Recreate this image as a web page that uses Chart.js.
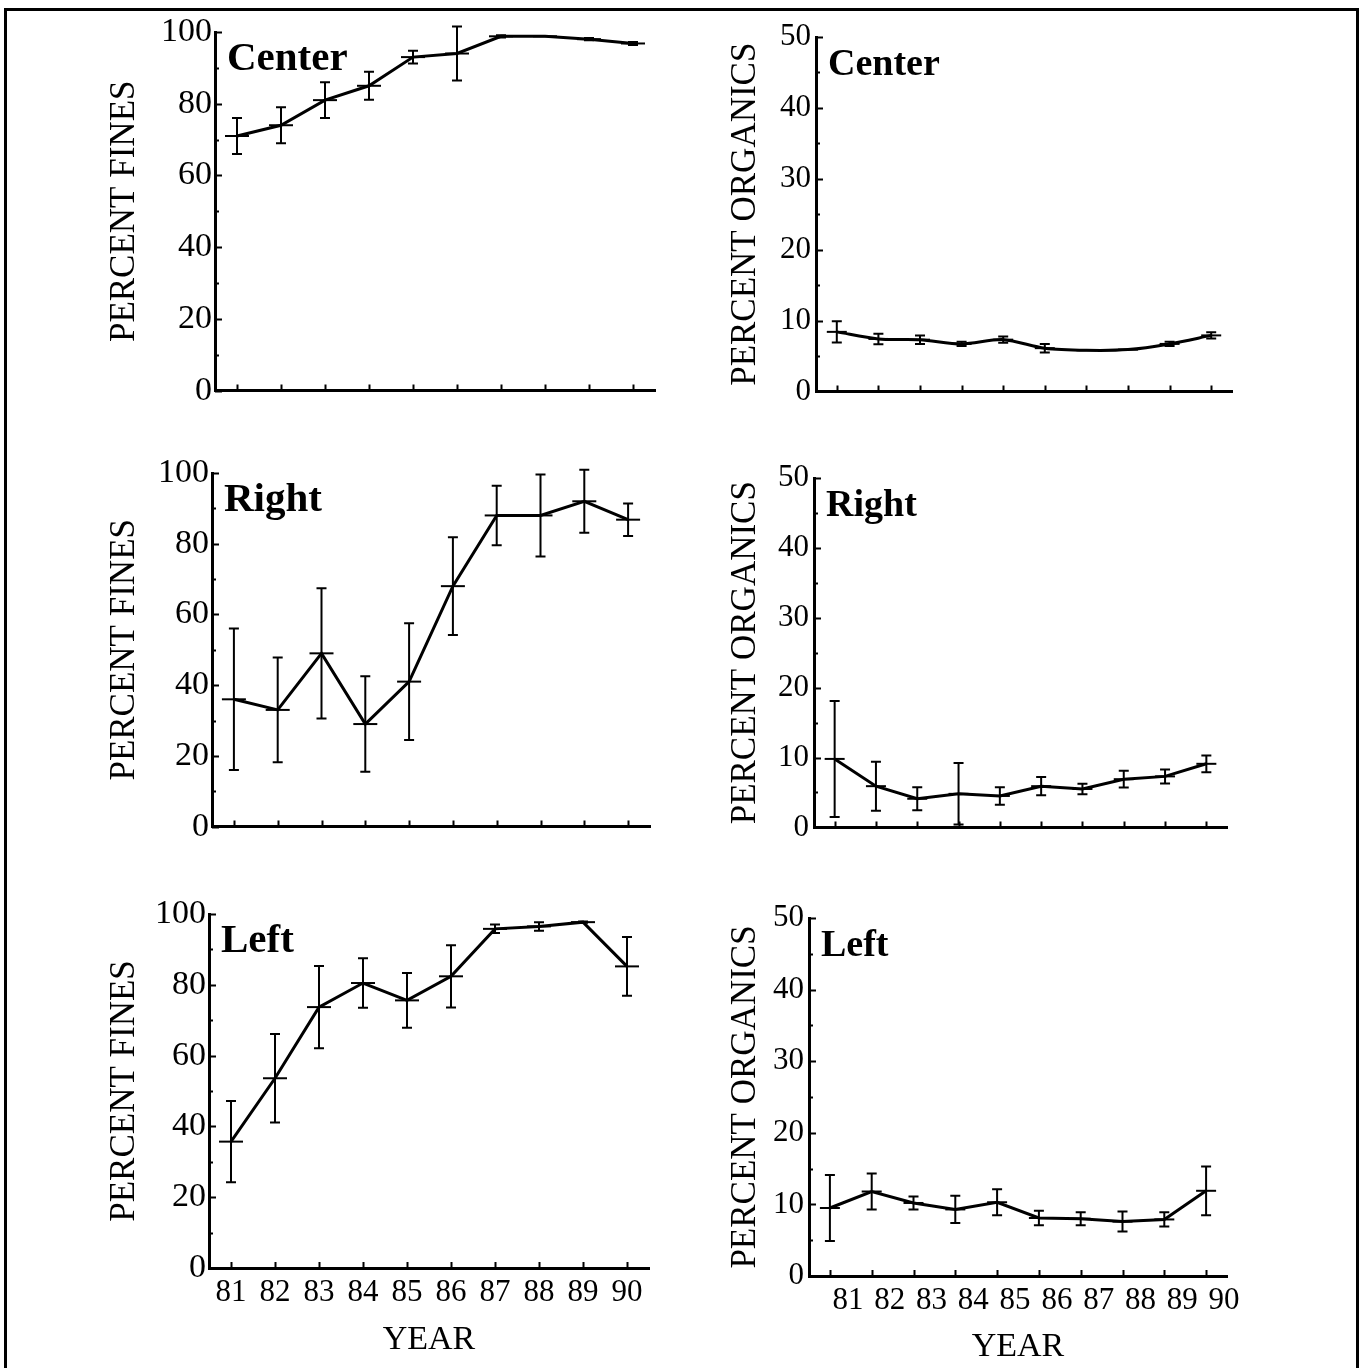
<!DOCTYPE html>
<html>
<head>
<meta charset="utf-8">
<script src="https://cdn.jsdelivr.net/npm/chart.js@4/dist/chart.umd.min.js"></script>
<style>
  html, body { margin: 0; padding: 0; background: #fff; }
  body { width: 1365px; height: 1368px; position: relative; overflow: hidden; }
  canvas { position: absolute; }
  #frame { position: absolute; left: 4px; top: 8px; width: 1355px; height: 1370px;
           border: 3px solid #000; border-bottom: none; box-sizing: border-box; }
</style>
</head>
<body>
<div id="frame"></div>
<script>
// ---------- data ----------
const years = [81, 82, 83, 84, 85, 86, 87, 88, 89, 90];
const yearLabels = ['81', '82', '83', '84', '85', '86', '87', '88', '89', '90'];
const finesTicks = [0, 20, 40, 60, 80, 100];
const organicsTicks = [0, 10, 20, 30, 40, 50];

const centerFines    = [71, 74, 81, 85, 93, 94, 98.8, 98.8, 98, 96.8];
const centerFinesErr = [5, 5, 5, 3.9, 1.8, 7.5, 0.3, 0, 0.3, 0.4];
const centerOrg      = [8.4, 7.4, 7.3, 6.7, 7.3, 6.1, 5.8, 5.9, 6.7, 7.9];
const centerOrgErr   = [1.5, 0.75, 0.6, 0.3, 0.45, 0.6, 0, 0, 0.3, 0.45];

const rightFines     = [36, 33, 49, 29, 41, 68, 88, 88, 92, 86.8];
const rightFinesErr  = [20, 14.8, 18.4, 13.5, 16.5, 13.8, 8.4, 11.6, 8.9, 4.6];
const rightOrg       = [9.8, 5.9, 4.1, 4.8, 4.5, 5.9, 5.5, 6.9, 7.3, 9.1];
const rightOrgErr    = [8.3, 3.5, 1.65, 4.4, 1.25, 1.3, 0.75, 1.2, 1.0, 1.2];

const leftFines      = [35.7, 53.6, 73.7, 80.5, 75.6, 82.4, 95.8, 96.5, 97.7, 85.2];
const leftFinesErr   = [11.5, 12.5, 11.6, 7, 7.7, 8.8, 1.2, 1.2, 0.2, 8.3];
const leftOrg        = [9.5, 11.8, 10.2, 9.3, 10.3, 8.1, 8.0, 7.6, 7.9, 11.9];
const leftOrgErr     = [4.6, 2.5, 0.9, 1.9, 1.8, 1.0, 0.9, 1.4, 1.0, 3.4];

const panelNames = ['Center', 'Center', 'Right', 'Right', 'Left', 'Left'];
const finesTitle = 'PERCENT FINES';
const organicsTitle = 'PERCENT ORGANICS';
const xTitle = 'YEAR';

// ---------- layout (pixels) ----------
const FONT = "'Liberation Serif', 'Times New Roman', serif";
const layout = [
  { axisX: 215, right: 655,  top: 32,  bottom: 402,  cx: 107, bottomRow: false, left: true },
  { axisX: 816, right: 1232, top: 37,  bottom: 403,  cx: 728, bottomRow: false, left: false },
  { axisX: 212, right: 650,  top: 473, bottom: 838,  cx: 107, bottomRow: false, left: true },
  { axisX: 814, right: 1227, top: 478, bottom: 839,  cx: 728, bottomRow: false, left: false },
  { axisX: 209, right: 649,  top: 914, bottom: 1268, cx: 107, bottomRow: true,  left: true,  titleCenterY: 1340 },
  { axisX: 809, right: 1227, top: 918, bottom: 1276, cx: 728, bottomRow: true,  left: false, titleCenterY: 1347 }
];

const series = [
  { values: centerFines, errors: centerFinesErr, fines: true,  tension: 0 },
  { values: centerOrg,   errors: centerOrgErr,   fines: false, tension: 0.3 },
  { values: rightFines,  errors: rightFinesErr,  fines: true,  tension: 0 },
  { values: rightOrg,    errors: rightOrgErr,    fines: false, tension: 0 },
  { values: leftFines,   errors: leftFinesErr,   fines: true,  tension: 0 },
  { values: leftOrg,     errors: leftOrgErr,     fines: false, tension: 0 }
];

// ---------- plugins ----------
const errorBars = {
  id: 'errorBars',
  afterDatasetsDraw(chart) {
    const { ctx, scales: { x, y } } = chart;
    chart.data.datasets.forEach(ds => {
      if (!ds.errors) return;
      ctx.save();
      ctx.strokeStyle = '#000';
      ctx.lineWidth = 2;
      ds.data.forEach((p, j) => {
        const e = ds.errors[j];
        if (!e) return;
        const px = x.getPixelForValue(p.x);
        const t = y.getPixelForValue(p.y + e);
        const b = y.getPixelForValue(p.y - e);
        ctx.beginPath();
        ctx.moveTo(px, t); ctx.lineTo(px, b);
        ctx.moveTo(px - 5, t); ctx.lineTo(px + 5, t);
        ctx.moveTo(px - 5, b); ctx.lineTo(px + 5, b);
        ctx.stroke();
      });
      ctx.restore();
    });
  }
};

const innerTicks = {
  id: 'innerTicks',
  afterDraw(chart, args, opts) {
    const { ctx, chartArea, scales: { x, y } } = chart;
    ctx.save();
    ctx.strokeStyle = '#000';
    ctx.lineWidth = 2;
    ctx.beginPath();
    for (let v = y.min; v <= y.max + 1e-9; v += opts.minorStep) {
      const py = Math.round(y.getPixelForValue(v)) + 0.5;
      const major = Math.abs(v / opts.majorStep - Math.round(v / opts.majorStep)) < 1e-6;
      const len = major ? 7 : 4;
      ctx.moveTo(chartArea.left, py);
      ctx.lineTo(chartArea.left + len, py);
    }
    years.forEach(v => {
      const px = Math.round(x.getPixelForValue(v)) + 0.5;
      ctx.moveTo(px, chartArea.bottom);
      ctx.lineTo(px, chartArea.bottom - 6);
    });
    ctx.stroke();
    ctx.restore();
  }
};

const panelLabel = {
  id: 'panelLabel',
  afterDraw(chart, args, opts) {
    const { ctx, chartArea } = chart;
    ctx.save();
    ctx.fillStyle = '#000';
    ctx.font = 'bold ' + opts.size + 'px ' + FONT;
    ctx.textBaseline = 'alphabetic';
    ctx.textAlign = 'left';
    ctx.fillText(opts.text, chartArea.left + 12, chartArea.top + 38);
    ctx.restore();
  }
};

// ---------- build charts ----------
layout.forEach((L, i) => {
  const S = series[i];
  const PT = 30, PR = 40;
  const Hx = L.bottomRow ? (L.titleCenterY + 17 - L.bottom) : 12;
  const cy = L.top - PT;
  const cw = L.right + PR - L.cx;
  const ch = L.bottom + Hx - cy;
  const Wy = L.axisX - L.cx;

  const canvas = document.createElement('canvas');
  canvas.width = cw; canvas.height = ch;
  canvas.style.left = L.cx + 'px';
  canvas.style.top = cy + 'px';
  canvas.style.width = cw + 'px';
  canvas.style.height = ch + 'px';
  document.body.appendChild(canvas);

  const yTicks = S.fines ? finesTicks : organicsTicks;
  const yMax = yTicks[yTicks.length - 1];

  new Chart(canvas, {
    type: 'line',
    data: {
      datasets: [{
        data: years.map((yr, j) => ({ x: yr, y: S.values[j] })),
        errors: S.errors,
        borderColor: '#000',
        borderWidth: 3,
        tension: S.tension,
        pointStyle: 'line',
        pointRadius: S.fines ? 12 : 10,
        pointBorderWidth: 2,
        pointBorderColor: '#000',
        pointBackgroundColor: '#000',
        clip: false,
        fill: false
      }]
    },
    options: {
      responsive: false,
      animation: false,
      devicePixelRatio: 1,
      layout: { padding: { top: PT, right: PR, left: 0, bottom: 0 } },
      plugins: {
        legend: { display: false },
        tooltip: { enabled: false },
        panelLabel: { text: panelNames[i], size: L.left ? 41 : 38 },
        innerTicks: { majorStep: S.fines ? 20 : 10, minorStep: S.fines ? 10 : 5 }
      },
      scales: {
        x: {
          type: 'linear',
          min: 80.5, max: 90.5,
          afterBuildTicks: s => { s.ticks = years.map(v => ({ value: v })); },
          afterFit: s => { s.height = Hx; },
          grid: { display: false, drawTicks: false },
          border: { display: true, width: 3, color: '#000' },
          ticks: {
            display: L.bottomRow,
            autoSkip: false,
            maxRotation: 0,
            padding: 6,
            labelOffset: (L.bottomRow && !L.left) ? 18 : 0,
            color: '#000',
            font: { family: FONT, size: 31 },
            callback: (v, idx) => yearLabels[idx]
          },
          title: {
            display: L.bottomRow,
            text: xTitle,
            color: '#000',
            padding: { top: 0, bottom: 0 },
            font: { family: FONT, size: 34, lineHeight: 1 }
          }
        },
        y: {
          type: 'linear',
          min: 0, max: yMax,
          afterBuildTicks: s => { s.ticks = yTicks.map(v => ({ value: v })); },
          afterFit: s => { s.width = Wy; },
          grid: { display: false, drawTicks: false },
          border: { display: true, width: 3, color: '#000' },
          ticks: {
            padding: L.left ? 3 : 5,
            color: '#000',
            font: { family: FONT, size: L.left ? 34 : 31 },
            callback: v => String(v)
          },
          title: {
            display: true,
            text: S.fines ? finesTitle : organicsTitle,
            color: '#000',
            padding: { top: 0, bottom: 0 },
            font: { family: FONT, size: 35, lineHeight: 1 }
          }
        }
      }
    },
    plugins: [errorBars, innerTicks, panelLabel]
  });
});
</script>
</body>
</html>
